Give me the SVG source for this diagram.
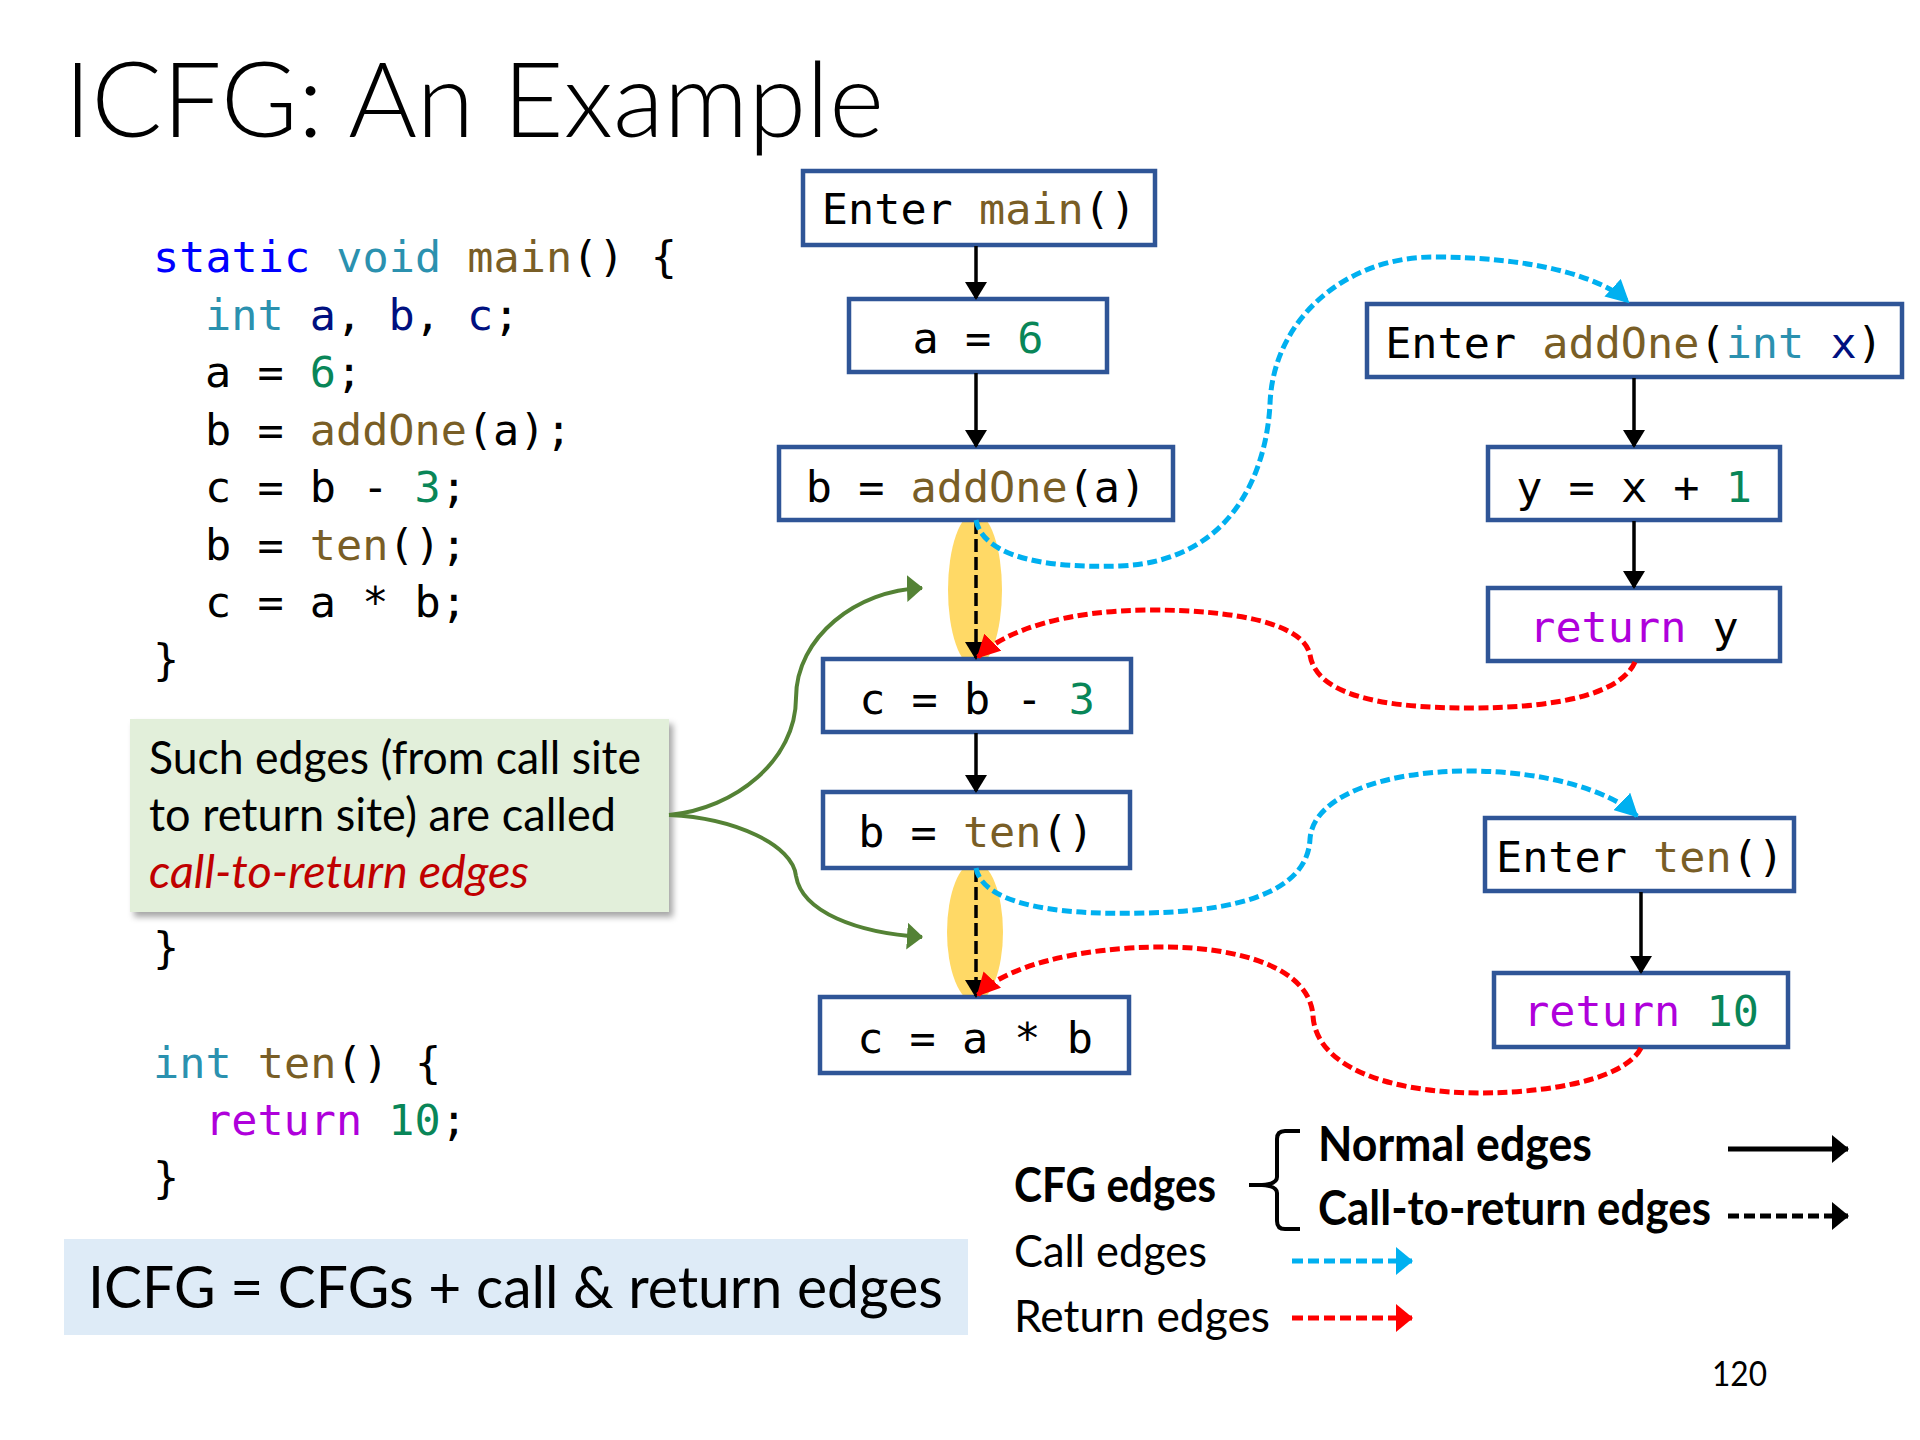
<svg xmlns="http://www.w3.org/2000/svg" width="1920" height="1440" viewBox="0 0 1920 1440">
  <style>
    .sans { font-family: Lato, "Open Sans", "Liberation Sans", sans-serif; }
    .mono { font-family: "DejaVu Sans Mono", "Liberation Mono", monospace; font-size: 43.5px; fill: #000; }
    .kw { fill: #0000FF; }
    .ty { fill: #2B91AF; }
    .fn { fill: #795E26; }
    .var { fill: #001080; }
    .num { fill: #098658; }
    .ret { fill: #AF00DB; }
    .node rect { fill: #FFFFFF; stroke: #2F5597; stroke-width: 4.5; }
    .node text { text-anchor: middle; }
    .flow { stroke: #000; stroke-width: 3.5; fill: none; marker-end: url(#headBlack); }
    .c2r { stroke: #000; stroke-width: 3.5; fill: none; stroke-dasharray: 13 5; marker-end: url(#headBlack); }
    .call { stroke: #00B0F0; stroke-width: 5; fill: none; stroke-dasharray: 10 4.5; marker-end: url(#headBlue); }
    .retn { stroke: #FF0000; stroke-width: 5; fill: none; stroke-dasharray: 10 4.5; marker-end: url(#headRed); }
    .note { stroke: #548235; stroke-width: 4; fill: none; marker-end: url(#headGreen); }
    .spot { fill: #FFD966; }
    .leg { fill: none; stroke-width: 5; }
    .dash { stroke-dasharray: 11 5; }
  </style>
  <defs>
    <marker id="headBlack" markerUnits="userSpaceOnUse" markerWidth="18" markerHeight="22" refX="16" refY="11" orient="auto">
      <path d="M0,0 L18,11 L0,22 z" fill="#000"/>
    </marker>
    <marker id="headBlue" markerUnits="userSpaceOnUse" markerWidth="23" markerHeight="24" refX="21" refY="12" orient="auto">
      <path d="M0,0 L23,12 L0,24 z" fill="#00B0F0"/>
    </marker>
    <marker id="headRed" markerUnits="userSpaceOnUse" markerWidth="23" markerHeight="24" refX="21" refY="12" orient="auto">
      <path d="M0,0 L23,12 L0,24 z" fill="#FF0000"/>
    </marker>
    <marker id="headGreen" markerUnits="userSpaceOnUse" markerWidth="16" markerHeight="27" refX="15" refY="13.5" orient="auto">
      <path d="M0,0 L16,13.5 L0,27 z" fill="#548235"/>
    </marker>
    <marker id="legBlack" markerUnits="userSpaceOnUse" markerWidth="17" markerHeight="28" refX="16" refY="14" orient="auto">
      <path d="M0,0 L17,14 L0,28 z" fill="#000"/>
    </marker>
    <marker id="legBlue" markerUnits="userSpaceOnUse" markerWidth="17" markerHeight="28" refX="16" refY="14" orient="auto">
      <path d="M0,0 L17,14 L0,28 z" fill="#00B0F0"/>
    </marker>
    <marker id="legRed" markerUnits="userSpaceOnUse" markerWidth="17" markerHeight="28" refX="16" refY="14" orient="auto">
      <path d="M0,0 L17,14 L0,28 z" fill="#FF0000"/>
    </marker>
    <filter id="shadow" x="-5%" y="-5%" width="115%" height="120%">
      <feDropShadow dx="4" dy="5" stdDeviation="3" flood-color="#000" flood-opacity="0.35"/>
    </filter>
  </defs>

  <rect width="1920" height="1440" fill="#FFFFFF"/>

  <!-- title -->
  <text class="sans" x="64" y="137" font-size="105" font-weight="300" textLength="820" lengthAdjust="spacingAndGlyphs">ICFG: An Example</text>

  <!-- source listing -->
  <g id="source" class="mono">
    <text x="153" y="272"><tspan class="kw">static</tspan> <tspan class="ty">void</tspan> <tspan class="fn">main</tspan>() {</text>
    <text x="205" y="330"><tspan class="ty">int</tspan> <tspan class="var">a</tspan>, <tspan class="var">b</tspan>, <tspan class="var">c</tspan>;</text>
    <text x="205" y="387">a = <tspan class="num">6</tspan>;</text>
    <text x="205" y="445">b = <tspan class="fn">addOne</tspan>(a);</text>
    <text x="205" y="502">c = b - <tspan class="num">3</tspan>;</text>
    <text x="205" y="560">b = <tspan class="fn">ten</tspan>();</text>
    <text x="205" y="617">c = a * b;</text>
    <text x="153" y="675">}</text>
    <text x="153" y="963">}</text>
    <text x="153" y="1078"><tspan class="ty">int</tspan> <tspan class="fn">ten</tspan>() {</text>
    <text x="205" y="1135"><tspan class="ret">return</tspan> <tspan class="num">10</tspan>;</text>
    <text x="153" y="1193">}</text>
  </g>

  <!-- callout explaining call-to-return edges -->
  <g id="callout">
    <rect x="130" y="719" width="539" height="193" fill="#E2EFDA" filter="url(#shadow)"/>
    <text class="sans" x="149" y="774" font-size="47" textLength="492" lengthAdjust="spacingAndGlyphs">Such edges (from call site</text>
    <text class="sans" x="149" y="831" font-size="47" textLength="467" lengthAdjust="spacingAndGlyphs">to return site) are called</text>
    <text class="sans" x="149" y="888" font-size="47" font-style="italic" fill="#C00000" textLength="380" lengthAdjust="spacingAndGlyphs">call-to-return edges</text>
  </g>

  <!-- summary banner -->
  <g id="summary">
    <rect x="64" y="1239" width="904" height="96" fill="#DEEBF7"/>
    <text class="sans" x="88" y="1308" font-size="58" textLength="855" lengthAdjust="spacingAndGlyphs">ICFG = CFGs + call &amp; return edges</text>
  </g>

  <!-- call sites highlighted -->
  <ellipse class="spot" cx="975" cy="590" rx="27" ry="77"/>
  <ellipse class="spot" cx="975" cy="932" rx="28" ry="70"/>

  <!-- nodes of main() -->
  <g id="n-enter-main" class="node">
    <rect x="803" y="171" width="352" height="74"/>
    <text class="mono" x="979" y="224">Enter <tspan class="fn">main</tspan>()</text>
  </g>
  <g id="n-a6" class="node">
    <rect x="849" y="299" width="258" height="73"/>
    <text class="mono" x="978" y="353">a = <tspan class="num">6</tspan></text>
  </g>
  <g id="n-call-addone" class="node">
    <rect x="779" y="447" width="394" height="73"/>
    <text class="mono" x="976" y="502">b = <tspan class="fn">addOne</tspan>(a)</text>
  </g>
  <g id="n-c-b3" class="node">
    <rect x="823" y="659" width="308" height="73"/>
    <text class="mono" x="977" y="714">c = b - <tspan class="num">3</tspan></text>
  </g>
  <g id="n-call-ten" class="node">
    <rect x="823" y="792" width="307" height="76"/>
    <text class="mono" x="976" y="847">b = <tspan class="fn">ten</tspan>()</text>
  </g>
  <g id="n-c-ab" class="node">
    <rect x="820" y="997" width="309" height="76"/>
    <text class="mono" x="975" y="1053">c = a * b</text>
  </g>

  <!-- nodes of addOne() -->
  <g id="n-enter-addone" class="node">
    <rect x="1367" y="304" width="535" height="73"/>
    <text class="mono" x="1634" y="358">Enter <tspan class="fn">addOne</tspan>(<tspan class="ty">int</tspan> <tspan class="var">x</tspan>)</text>
  </g>
  <g id="n-y" class="node">
    <rect x="1488" y="447" width="292" height="73"/>
    <text class="mono" x="1634" y="502">y = x + <tspan class="num">1</tspan></text>
  </g>
  <g id="n-return-y" class="node">
    <rect x="1488" y="588" width="292" height="73"/>
    <text class="mono" x="1634" y="642"><tspan class="ret">return</tspan> y</text>
  </g>

  <!-- nodes of ten() -->
  <g id="n-enter-ten" class="node">
    <rect x="1485" y="818" width="309" height="73"/>
    <text class="mono" x="1640" y="872">Enter <tspan class="fn">ten</tspan>()</text>
  </g>
  <g id="n-return-10" class="node">
    <rect x="1494" y="973" width="294" height="74"/>
    <text class="mono" x="1641" y="1026"><tspan class="ret">return</tspan> <tspan class="num">10</tspan></text>
  </g>

  <!-- edges -->
  <g id="edges">
    <path class="flow" d="M976,246 L976,298"/>
    <path class="flow" d="M976,373 L976,446"/>
    <path class="flow" d="M976,733 L976,791"/>
    <path class="flow" d="M1634,378 L1634,446"/>
    <path class="flow" d="M1634,521 L1634,587"/>
    <path class="flow" d="M1641,892 L1641,972"/>

    <path class="c2r" d="M976,521 L976,658"/>
    <path class="c2r" d="M976,869 L976,996"/>

    <path class="call" d="M976,520 C982,551 1029,569 1120,566 C1237,561 1267,465 1270,404 C1273,318 1347,257 1433,257 C1531,257 1600,276 1628,302"/>
    <path class="retn" d="M1635,662 C1616,704 1518,708 1469,708 C1372,708 1316,692 1310,655 C1304,624 1237,610 1151,610 C1065,610 1004,631 978,657"/>
    <path class="call" d="M976,868 C982,900 1041,916 1145,913 C1261,911 1308,882 1310,839 C1313,796 1384,771 1469,771 C1543,771 1610,790 1637,816"/>
    <path class="retn" d="M1641,1048 C1622,1084 1531,1093 1482,1093 C1384,1093 1316,1065 1313,1016 C1310,967 1237,947 1163,947 C1078,947 1004,967 978,995"/>

    <path class="note" d="M669,815 C735,809 796,760 796,698 C796,637 857,590 922,588"/>
    <path class="note" d="M669,815 C735,818 793,845 796,876 C802,912 857,933 922,937"/>
  </g>

  <!-- legend -->
  <g id="legend">
    <text class="sans" x="1014" y="1202" font-size="47" font-weight="bold" textLength="202" lengthAdjust="spacingAndGlyphs">CFG edges</text>
    <path d="M1300,1131 L1285,1131 Q1277,1131 1277,1139 L1277,1177 Q1277,1184 1262,1185 L1249,1185 M1262,1185 Q1277,1186 1277,1193 L1277,1221 Q1277,1229 1285,1229 L1300,1229" fill="none" stroke="#000" stroke-width="4"/>
    <text class="sans" x="1318" y="1161" font-size="47" font-weight="bold" textLength="274" lengthAdjust="spacingAndGlyphs">Normal edges</text>
    <text class="sans" x="1318" y="1225" font-size="47" font-weight="bold" textLength="393" lengthAdjust="spacingAndGlyphs">Call-to-return edges</text>
    <path class="leg" d="M1728,1149 L1848,1149" stroke="#000" marker-end="url(#legBlack)"/>
    <path class="leg dash" d="M1728,1216 L1848,1216" stroke="#000" marker-end="url(#legBlack)"/>
    <text class="sans" x="1014" y="1267" font-size="44" textLength="193" lengthAdjust="spacingAndGlyphs">Call edges</text>
    <path class="leg dash" d="M1292,1261 L1412,1261" stroke="#00B0F0" marker-end="url(#legBlue)"/>
    <text class="sans" x="1014" y="1332" font-size="44" textLength="256" lengthAdjust="spacingAndGlyphs">Return edges</text>
    <path class="leg dash" d="M1292,1318 L1412,1318" stroke="#FF0000" marker-end="url(#legRed)"/>
  </g>

  <!-- slide number -->
  <text class="sans" x="1712" y="1386" font-size="34" textLength="55" lengthAdjust="spacingAndGlyphs">120</text>
</svg>
